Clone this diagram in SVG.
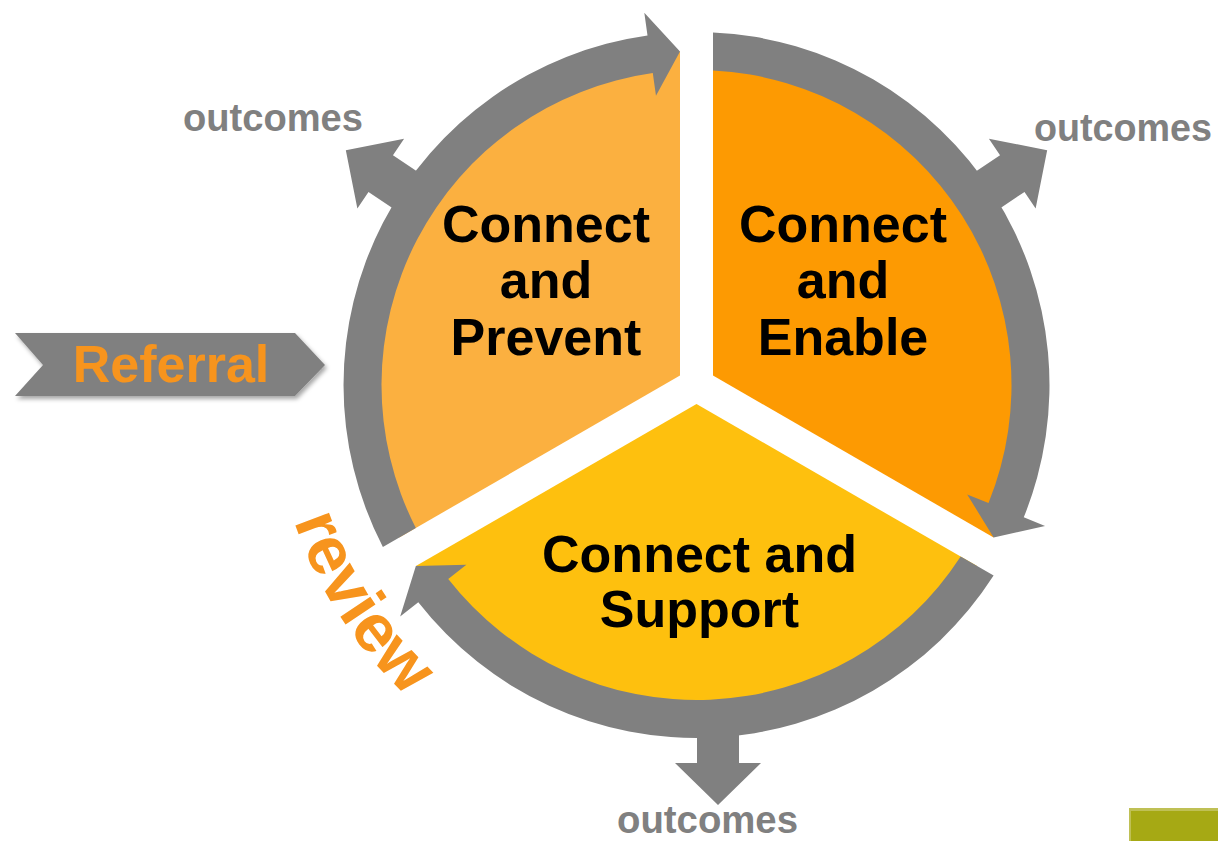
<svg xmlns="http://www.w3.org/2000/svg" width="1218" height="841" viewBox="0 0 1218 841">
<defs>
<style>
.ring{fill:#808080}
.title{font-family:"Liberation Sans",Arial,sans-serif;font-weight:bold;font-size:52px;fill:#000;text-anchor:middle}
.out{font-family:"Liberation Sans",Arial,sans-serif;font-weight:bold;font-size:38px;fill:#808080}
.orange{font-family:"Liberation Sans",Arial,sans-serif;font-weight:bold;fill:#F7941D}
</style>
<filter id="shadow" x="-10%" y="-20%" width="130%" height="160%">
<feDropShadow dx="2" dy="3" stdDeviation="2" flood-color="#000" flood-opacity="0.35"/>
</filter>
<path id="reviewArc" d="M 278,458.8 A 425 425 0 0 0 484,753.1"/>
</defs>
<rect width="1218" height="841" fill="#fff"/>

<g id="sector-prevent">
<path d="M 680,375.5 L 680,51.41 A 334 334 0 0 0 399.36,537.51 Z" fill="#FBB040"/>
<text class="title" x="546" y="242">Connect</text>
<text class="title" x="546" y="298">and</text>
<text class="title" x="546" y="355">Prevent</text>
</g>

<g id="sector-enable">
<path d="M 713,375.5 L 713,51.41 A 334 334 0 0 1 993.64,537.51 Z" fill="#FD9A02"/>
<text class="title" x="843" y="242">Connect</text>
<text class="title" x="843" y="298">and</text>
<text class="title" x="843" y="355">Enable</text>
</g>

<g id="sector-support">
<path d="M 696.5,404.05 L 977.14,566.09 A 334 334 0 0 1 415.86,566.09 Z" fill="#FEC00E"/>
<text class="title" x="699.5" y="572">Connect and</text>
<text class="title" x="699.5" y="627">Support</text>
</g>

<g id="connectors">
<path class="ring" d="M 382.89,547.02 A 353 353 0 0 1 647.5,35.42 L 644.31,12.65 L 680,51.4 L 655.97,95.83 L 652.78,73.06 A 315 315 0 0 0 415.83,527.99 Z"/>
<path class="ring" d="M 713,32.39 A 353 353 0 0 1 1023.75,517.35 L 1045.07,525.97 L 993.64,537.51 L 967.2,494.48 L 988.52,503.1 A 315 315 0 0 0 713,70.43 Z"/>
<path class="ring" d="M 993.61,575.6 A 353 353 0 0 1 418.3,602.29 L 400.17,616.45 L 415.86,566.09 L 466.37,564.74 L 448.25,578.9 A 315 315 0 0 0 960.67,556.57 Z"/>
<path class="ring" d="M 340,-22 L 380,-22 L 380,-42 L 422,0 L 380,42 L 380,22 L 340,22 Z" transform="translate(696.5,385) rotate(-146.2)"/>
<path class="ring" d="M 340,-22 L 380,-22 L 380,-42 L 422,0 L 380,42 L 380,22 L 340,22 Z" transform="translate(696.5,385) rotate(-33.8)"/>
<path class="ring" d="M 697,720 L 739,720 L 739,763 L 761,763 L 718,805 L 675,763 L 697,763 Z"/>
</g>

<g id="label-outcomes-left"><text class="out" x="183" y="131" textLength="180" lengthAdjust="spacingAndGlyphs">outcomes</text></g>
<g id="label-outcomes-right"><text class="out" x="1034" y="141" textLength="178" lengthAdjust="spacingAndGlyphs">outcomes</text></g>
<g id="label-outcomes-bottom"><text class="out" x="617" y="833" textLength="181" lengthAdjust="spacingAndGlyphs">outcomes</text></g>

<g id="referral">
<polygon points="15,333 295,333 325,365 295,396 15,396 43,365" fill="#808080" filter="url(#shadow)"/>
<text class="orange" x="171" y="382" font-size="52" text-anchor="middle">Referral</text>
</g>

<g id="review">
<text class="orange" font-size="68" text-anchor="middle"><textPath href="#reviewArc" startOffset="170">review</textPath></text>
</g>

<g id="corner-block">
<rect x="1129" y="808" width="89" height="33" fill="#A6A914"/>
<rect x="1129" y="808" width="89" height="3" fill="#BFC055"/>
<rect x="1129" y="808" width="2" height="33" fill="#BFC055"/>
</g>
</svg>
